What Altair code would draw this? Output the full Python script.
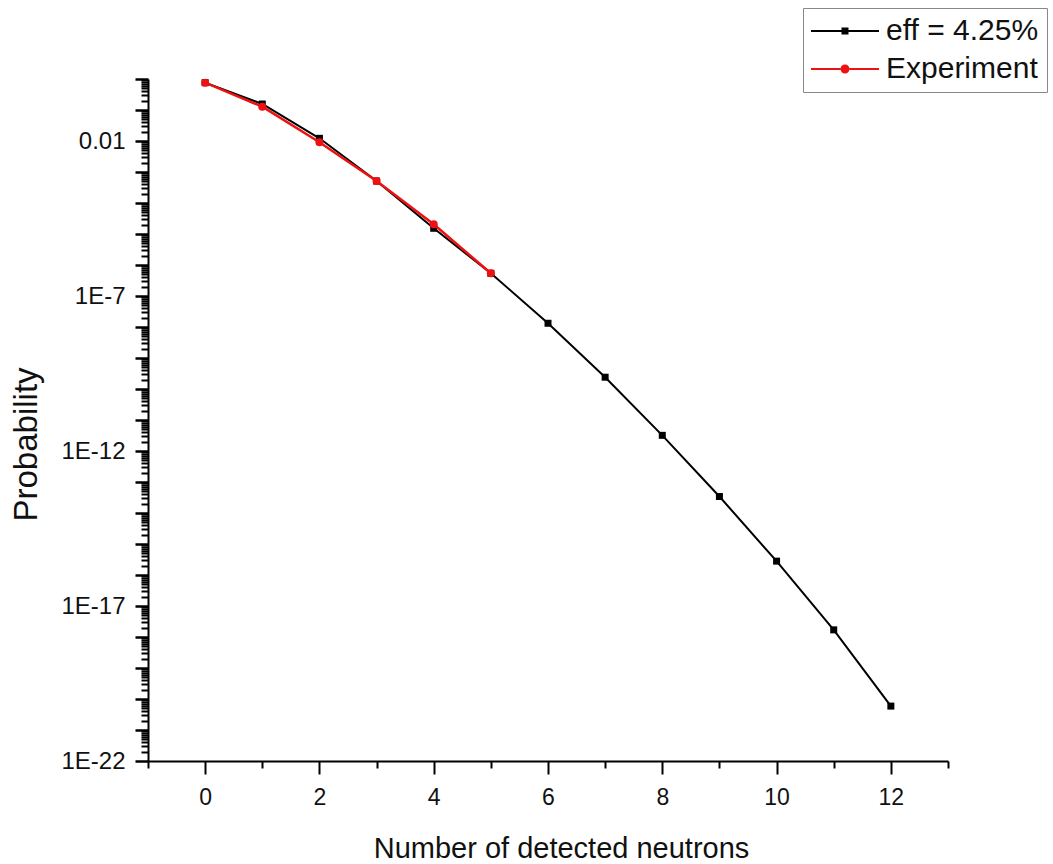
import altair as alt
import pandas as pd

# ---- data ----
series_names = ["eff = 4.25%", "Experiment"]

n_eff = [0, 1, 2, 3, 4, 5, 6, 7, 8, 9, 10, 11, 12]
p_eff = [0.76, 0.156, 0.0122, 5.1e-4, 1.53e-5, 5.4e-7, 1.32e-8,
         2.4e-10, 3.2e-12, 3.4e-14, 2.8e-16, 1.7e-18, 5.9e-21]

n_exp = [0, 1, 2, 3, 4, 5]
p_exp = [0.76, 0.128, 0.0091, 5.1e-4, 2.06e-5, 5.4e-7]

x_tick_values = list(range(-1, 14))
y_label_exponents = [-22, -17, -12, -7, -2]
y_decades = list(range(-22, 1))
y_minor_mult = [2, 3, 4, 5, 6, 7, 8, 9]

y_tick_values = [10.0 ** e for e in y_decades] + [
    m * 10.0 ** e for e in y_decades[:-1] for m in y_minor_mult
]

df_eff = pd.DataFrame({"n": n_eff, "p": p_eff, "series": series_names[0]})
df_exp = pd.DataFrame({"n": n_exp, "p": p_exp, "series": series_names[1]})
df_leg = pd.DataFrame({"series": series_names})

FONT = "Liberation Sans"
TXT = "#111111"
RED = "#ee1111"

LOGV = "(log(datum.value)/LN10)"
IS_DECADE = f"abs({LOGV} - round({LOGV})) < 0.001"
IS_LABELED = f"({IS_DECADE}) && ((round({LOGV}) + 22) % 5 == 0)"

x_scale = alt.Scale(domain=[-1, 13], nice=False, zero=False)
y_scale = alt.Scale(type="log", domain=[1e-22, 1], nice=False)

x_axis = alt.Axis(
    values=x_tick_values,
    labelExpr="(datum.value % 2 == 0 && datum.value >= 0 && datum.value <= 12) ? datum.label : ''",
    tickSize={"condition": {"test": "datum.value % 2 == 0 && datum.value >= 0 && datum.value <= 12", "value": 13}, "value": 7},
    tickWidth=2, tickColor="black",
    domainColor="black", domainWidth=2,
    labelFont=FONT, labelFontSize=23, labelColor=TXT, labelPadding=12,
    labelOverlap=False, labelFlush=False, grid=False,
    title="Number of detected neutrons",
    titleFont=FONT, titleFontSize=29, titleFontWeight="normal", titleColor=TXT,
    titleX=413, titleY=87, titleBaseline="middle", titleAlign="center",
)

y_axis = alt.Axis(
    values=y_tick_values,
    labelExpr=f"({IS_LABELED}) ? (round({LOGV}) == -2 ? '0.01' : '1E' + round({LOGV})) : ''",
    tickSize={"condition": {"test": IS_DECADE, "value": 13}, "value": 7},
    tickWidth={"condition": {"test": IS_DECADE, "value": 2.5}, "value": 2},
    tickColor="black",
    domainColor="black", domainWidth=2,
    labelFont=FONT, labelFontSize=24, labelColor=TXT, labelPadding=10,
    labelOverlap=False, labelFlush=False, labelBaseline="middle", grid=False,
    title="Probability",
    titleFont=FONT, titleFontSize=33, titleFontWeight="normal", titleColor=TXT,
    titleAngle=270, titleX=-122, titleY=365, titleAlign="center", titleBaseline="middle",
)

x_enc = alt.X("n:Q", scale=x_scale, axis=x_axis)
y_enc = alt.Y("p:Q", scale=y_scale, axis=y_axis)

line_eff = alt.Chart(df_eff).mark_line(color="black", strokeWidth=2).encode(x=x_enc, y=y_enc)
pts_eff = alt.Chart(df_eff).mark_point(shape="square", filled=True, color="black", size=49, opacity=1).encode(x=x_enc, y=y_enc)
line_exp = alt.Chart(df_exp).mark_line(color=RED, strokeWidth=2.5).encode(x=x_enc, y=y_enc)
pts_exp = alt.Chart(df_exp).mark_circle(color=RED, size=64, opacity=1).encode(x=x_enc, y=y_enc)

# legend symbols: line with marker, as filled custom paths (unit = 15px)
path_sq = ("M-1,-0.067H1.033V-0.233H1.5V-0.067H3.533V0.067H1.5V0.233H1.033V0.067H-1Z")
path_ci = ("M-1,-0.067H0.967V0.067H-1Z M1.567,-0.067H3.533V0.067H1.567Z "
           "M1.567,0A0.3,0.3 0 1,1 0.967,0A0.3,0.3 0 1,1 1.567,0Z")

leg = alt.Legend(
    title=None, orient="none", legendX=655, legendY=-71,
    symbolSize=900, symbolStrokeWidth=0, labelOffset=45,
    labelFont=FONT, labelFontSize=30, labelColor=TXT, labelLimit=400,
    rowPadding=8, padding=8, strokeColor="#888888", fillColor="white",
    labelBaseline="middle",
)

legend_layer = alt.Chart(df_leg).mark_point(filled=True, opacity=1, strokeWidth=0).encode(
    color=alt.Color("series:N", scale=alt.Scale(domain=series_names, range=["black", RED]), legend=leg),
    shape=alt.Shape("series:N", scale=alt.Scale(domain=series_names, range=[path_sq, path_ci]), legend=leg),
).transform_filter("false")

chart = alt.layer(line_eff, pts_eff, line_exp, pts_exp, legend_layer).properties(
    width=800, height=682,
    autosize="none",
    padding={"left": 148, "top": 79, "right": 105, "bottom": 103},
    background="white",
).configure_view(stroke=None)

chart.save("out.html", embed_options={"renderer": "svg", "actions": False})
